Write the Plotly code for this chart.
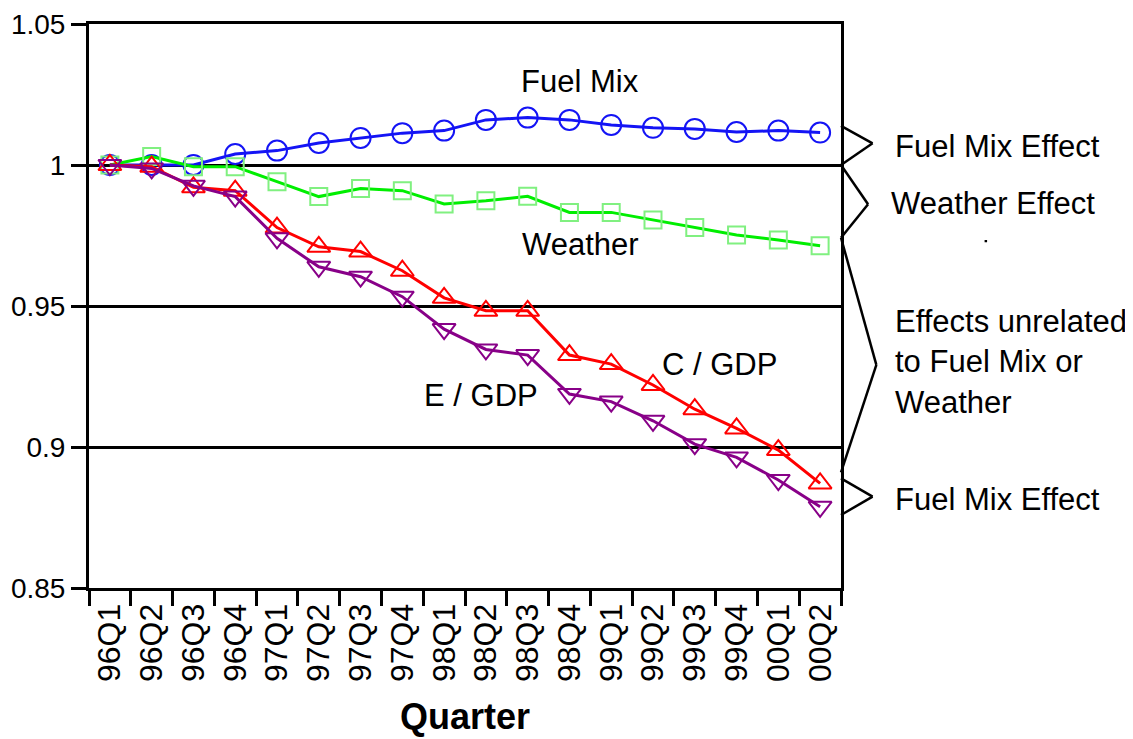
import plotly.graph_objects as go

quarters = ["96Q1", "96Q2", "96Q3", "96Q4", "97Q1", "97Q2", "97Q3", "97Q4",
            "98Q1", "98Q2", "98Q3", "98Q4", "99Q1", "99Q2", "99Q3", "99Q4",
            "00Q1", "00Q2"]

fuel_mix = [1.000, 1.000, 1.000, 1.0039, 1.0051, 1.0078, 1.0096, 1.0113,
            1.0122, 1.0160, 1.0168, 1.0160, 1.0142, 1.0132, 1.0128, 1.0117,
            1.0122, 1.0115]
weather = [1.000, 1.0030, 0.9994, 0.9994, 0.9941, 0.9888, 0.9917, 0.9909,
           0.9862, 0.9873, 0.9889, 0.9832, 0.9832, 0.9805, 0.9778, 0.9752,
           0.9734, 0.9714]
c_gdp = [1.000, 0.9994, 0.9921, 0.9909, 0.9778, 0.9710, 0.9693, 0.9625,
         0.9529, 0.9483, 0.9483, 0.9326, 0.9294, 0.9220, 0.9134, 0.9066,
         0.8989, 0.8871]
e_gdp = [1.000, 0.9988, 0.9926, 0.9888, 0.9740, 0.9639, 0.9604, 0.9533,
         0.9418, 0.9346, 0.9326, 0.9188, 0.9161, 0.9093, 0.9010, 0.8963,
         0.8883, 0.8788]

y_ticks = [0.85, 0.9, 0.95, 1.0, 1.05]
y_tick_text = ["0.85", "0.9", "0.95", "1", "1.05"]

FONT = "Liberation Sans, Arial, sans-serif"

fig = go.Figure()

def add_series(y, line_color, marker_symbol, marker_color, msize, name):
    fig.add_trace(go.Scatter(
        x=quarters, y=y, mode="lines+markers", name=name,
        line=dict(color=line_color, width=3),
        marker=dict(symbol=marker_symbol, size=msize, color=marker_color,
                    line=dict(color=marker_color, width=2)),
    ))

add_series(fuel_mix, "#1414f5", "circle-open", "#1414f5", 20, "Fuel Mix")
add_series(weather, "#00ee00", "square-open", "#80f080", 17, "Weather")
add_series(c_gdp, "#ff0000", "triangle-up-open", "#ff0000", 20, "C / GDP")
add_series(e_gdp, "#880088", "triangle-down-open", "#880088", 20, "E / GDP")

# Right-side brackets (paper x, data y)
brackets = [
    [(1.0, 1.0139), (1.042, 1.0077), (1.0, 1.0)],
    [(1.0, 1.0), (1.036, 0.9861), (1.0, 0.9742)],
    [(1.0, 0.9742), (1.047, 0.9291), (1.0, 0.8910)],
    [(1.0, 0.8889), (1.042, 0.8824), (1.0, 0.8759)],
]
for pts in brackets:
    for (x0, y0), (x1, y1) in zip(pts[:-1], pts[1:]):
        fig.add_shape(type="line", xref="paper", yref="y",
                      x0=x0, y0=y0, x1=x1, y1=y1,
                      line=dict(color="black", width=2.5))

# tiny stray dot
fig.add_shape(type="line", xref="paper", yref="y",
              x0=1.1926, x1=1.1926, y0=0.9734, y1=0.9726,
              line=dict(color="black", width=2.5))

ann_font = dict(family=FONT, size=31, color="black")
annotations = [
    dict(text="Fuel Mix", x=0.653, y=1.0295),
    dict(text="Weather", x=0.653, y=0.9718),
    dict(text="C / GDP", x=0.838, y=0.9291),
    dict(text="E / GDP", x=0.521, y=0.9184),
]
for a in annotations:
    fig.add_annotation(text=a["text"], x=a["x"], y=a["y"], xref="paper", yref="y",
                       showarrow=False, font=ann_font,
                       xanchor="center", yanchor="middle")

right_labels = [
    dict(text="Fuel Mix Effect", x=1.069, y=1.0065),
    dict(text="Weather Effect", x=1.064, y=0.9864),
    dict(text="Effects unrelated<br>to Fuel Mix or<br>Weather", x=1.069, y=0.9300),
    dict(text="Fuel Mix Effect", x=1.069, y=0.8814),
]
for a in right_labels:
    fig.add_annotation(text=a["text"], x=a["x"], y=a["y"], xref="paper", yref="y",
                       showarrow=False, font=ann_font, align="left",
                       xanchor="left", yanchor="middle")

fig.add_annotation(text="<b>Quarter</b>", x=0.5, y=-0.228, xref="paper", yref="paper",
                   showarrow=False, font=dict(family=FONT, size=36, color="black"),
                   xanchor="center", yanchor="middle")

fig.update_layout(
    width=1125, height=731,
    margin=dict(l=81, r=292, t=16, b=151, autoexpand=False),
    plot_bgcolor="white", paper_bgcolor="white",
    showlegend=False,
    font=dict(family=FONT, color="black"),
)
fig.update_xaxes(
    type="category", categoryorder="array", categoryarray=quarters,
    range=[-0.5, len(quarters) - 0.5], automargin=False,
    tickson="boundaries", ticks="outside", ticklen=15, tickwidth=3, tickcolor="black",
    tickangle=-90, tickfont=dict(family=FONT, size=32, color="black"),
    showline=True, linewidth=3, linecolor="black", mirror=True,
    showgrid=False, zeroline=False,
)
fig.update_yaxes(
    range=[0.85, 1.05], tickvals=y_ticks, ticktext=y_tick_text, automargin=False,
    ticks="outside", ticklen=15, tickwidth=3, tickcolor="black",
    tickfont=dict(family=FONT, size=28, color="black"),
    showline=True, linewidth=3, linecolor="black", mirror=True,
    showgrid=True, gridcolor="black", gridwidth=2.5, zeroline=False,
)

fig.write_html("out.html")
